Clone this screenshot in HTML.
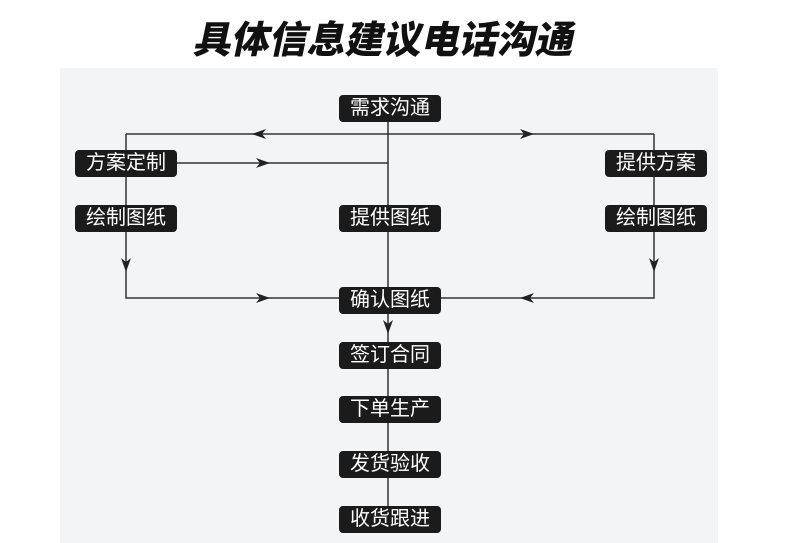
<!DOCTYPE html>
<html><head><meta charset="utf-8"><style>
body{margin:0;width:790px;height:543px;background:#fff;position:relative;overflow:hidden;font-family:"Liberation Sans","Noto Sans CJK SC",sans-serif}
.t{position:absolute;left:150px;top:15px;width:470px;text-align:center;font-size:38px;font-weight:900;color:#111;transform:skewX(-12deg);white-space:nowrap;line-height:52px}
.p{position:absolute;left:60px;top:68px;width:658px;height:475px;background:#f3f4f6}
.b{position:absolute;width:102px;height:27px;background:#1b1b1b;border-radius:4px;color:#fff;font-size:20px;line-height:27px;text-align:center;white-space:nowrap}
</style></head><body>
<div class="t">具体信息建议电话沟通</div>
<div class="p"></div>
<svg style="position:absolute;left:0;top:0" width="790" height="543">
<g stroke="#333" stroke-width="1.5" fill="none">
<path d="M388 108V520"/>
<path d="M126 134H654"/>
<path d="M126 134V298H388"/>
<path d="M654 134V298H441"/>
<path d="M176 163H388"/>
</g>
<g fill="#222">
<path d="M252 134l14-5-4 5 4 5z"/>
<path d="M534 134l-14-5 4 5-4 5z"/>
<path d="M270 163l-14-5 4 5-4 5z"/>
<path d="M270 298l-14-5 4 5-4 5z"/>
<path d="M520 298l14-5-4 5 4 5z"/>
<path d="M126 272l-5-14 5 4 5-4z"/>
<path d="M654 272l-5-14 5 4 5-4z"/>
<path d="M388 334l-5-14 5 4 5-4z"/>
</g>
</svg>
<div class="b" style="left:339px;top:95px">需求沟通</div>
<div class="b" style="left:75px;top:150px">方案定制</div>
<div class="b" style="left:75px;top:205px">绘制图纸</div>
<div class="b" style="left:339px;top:205px">提供图纸</div>
<div class="b" style="left:605px;top:150px">提供方案</div>
<div class="b" style="left:605px;top:205px">绘制图纸</div>
<div class="b" style="left:339px;top:287px">确认图纸</div>
<div class="b" style="left:339px;top:342px">签订合同</div>
<div class="b" style="left:339px;top:396px">下单生产</div>
<div class="b" style="left:339px;top:451px">发货验收</div>
<div class="b" style="left:339px;top:506px">收货跟进</div>
</body></html>
